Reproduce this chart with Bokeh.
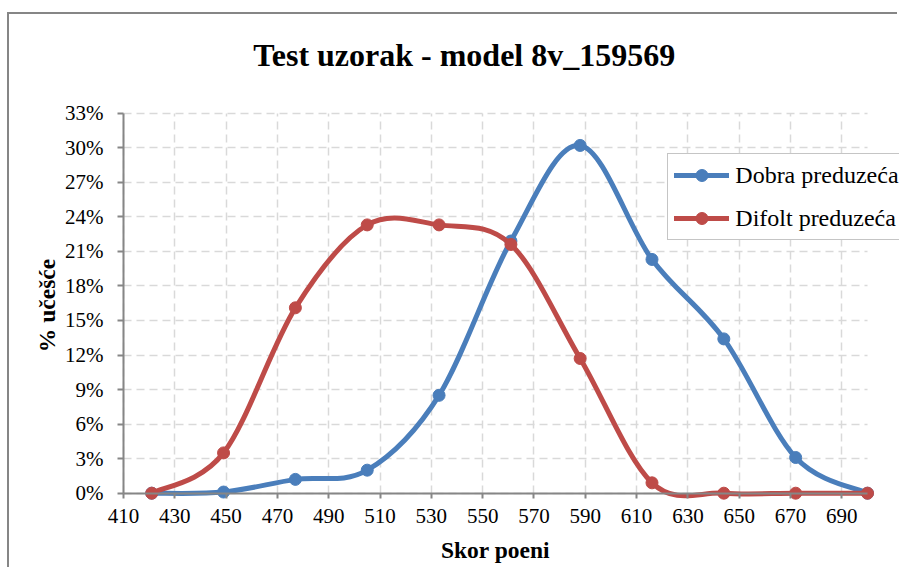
import math
from bokeh.plotting import figure
from bokeh.models import Range1d, FixedTicker, Legend, LegendItem, Label, ColumnDataSource
from bokeh.embed import file_html
from bokeh.resources import INLINE

# ---------------- data ----------------
title_text = "Test uzorak - model 8v_159569"
x_label = "Skor poeni"
y_label = "% učešće"
series_names = ["Dobra preduzeća", "Difolt preduzeća"]

scores = [421, 449, 477, 505, 533, 561, 588, 616, 644, 672, 700]
dobra = [0.0, 0.1, 1.2, 2.0, 8.5, 21.9, 30.2, 20.3, 13.4, 3.1, 0.0]
difolt = [0.0, 3.5, 16.1, 23.3, 23.3, 21.6, 11.7, 0.9, 0.0, 0.0, 0.0]

x_ticks = [410, 430, 450, 470, 490, 510, 530, 550, 570, 590, 610, 630, 650, 670, 690]
y_ticks = [0, 3, 6, 9, 12, 15, 18, 21, 24, 27, 30, 33]
y_tick_labels = ["0%", "3%", "6%", "9%", "12%", "15%", "18%", "21%", "24%", "27%", "30%", "33%"]
x_min, x_max = 410, 700
y_min, y_max = 0, 33

colors = ["#4A7EBB", "#BE4B48"]
FONT = "Liberation Serif"

# ---------------- layout (pixels, canvas coordinates; frame = whole canvas) ----------------
ORIGIN_Y = 14              # canvas top on the page
W, H = 890, 555
X410_PX = 114              # where x_min lands
X700_PX = 858              # where x_max lands
Y0_PX = 492.7 - ORIGIN_Y   # where y=0 lands (from canvas top)
Y33_PX = 112.7 - ORIGIN_Y  # where y=33 lands
BASE_CORR = 0.35           # alphabetic-baseline correction (em)

px_x = (X700_PX - X410_PX) / (x_max - x_min)
px_y = (Y0_PX - Y33_PX) / (y_max - y_min)
x_start = x_min - X410_PX / px_x
x_end = x_min + (W - X410_PX) / px_x
y_end = Y0_PX / px_y
y_start = -(H - Y0_PX) / px_y


def smooth_segments(xs, ys):
    """Cubic Bezier control points (Catmull-Rom style smoothing, as in Excel)."""
    n = len(xs)
    d = dict(x0=[], y0=[], x1=[], y1=[], cx0=[], cy0=[], cx1=[], cy1=[])
    for i in range(n - 1):
        pm = max(i - 1, 0)
        pp = min(i + 2, n - 1)
        d["x0"].append(xs[i]); d["y0"].append(ys[i])
        d["x1"].append(xs[i + 1]); d["y1"].append(ys[i + 1])
        d["cx0"].append(xs[i] + (xs[i + 1] - xs[pm]) / 6.0)
        d["cy0"].append(ys[i] + (ys[i + 1] - ys[pm]) / 6.0)
        d["cx1"].append(xs[i + 1] - (xs[pp] - xs[i]) / 6.0)
        d["cy1"].append(ys[i + 1] - (ys[pp] - ys[i]) / 6.0)
    return d


p = figure(width=W, height=H,
           x_range=Range1d(x_start, x_end), y_range=Range1d(y_start, y_end),
           output_backend="svg", toolbar_location=None,
           min_border_left=0, min_border_right=0,
           min_border_top=0, min_border_bottom=0)
p.styles = {"border-top": "2px solid #868686", "border-left": "2px solid #868686",
            "margin-top": "12px", "margin-left": "7px"}
p.outline_line_color = None
p.background_fill_color = "white"
p.border_fill_color = "white"

# axes (drawn at fixed data locations inside the frame)
for ax in (p.xaxis, p.yaxis):
    ax.axis_line_color = "#868686"
    ax.axis_line_width = 2
    ax.major_tick_line_color = "#868686"
    ax.major_tick_line_width = 2
    ax.major_tick_in = 0
    ax.minor_tick_line_color = None
    ax.major_label_text_font = FONT
    ax.major_label_text_font_size = "21px"
    ax.major_label_text_color = "black"

p.xaxis.ticker = FixedTicker(ticks=x_ticks)
p.yaxis.ticker = FixedTicker(ticks=y_ticks)
p.xaxis.bounds = (x_min, x_max)
p.yaxis.bounds = (y_min, y_max)
p.xaxis.fixed_location = y_min
p.yaxis.fixed_location = x_min
p.yaxis.major_label_overrides = {t: l for t, l in zip(y_ticks, y_tick_labels)}
p.xaxis.major_tick_out = 5
p.yaxis.major_tick_out = 6
p.xaxis.major_label_standoff = 11
p.yaxis.major_label_standoff = 14

for g in (p.xgrid, p.ygrid):
    g.grid_line_color = "#D9D9D9"
    g.grid_line_width = 1.5
    g.grid_line_dash = "8 5"
p.xgrid.cross_bounds = (y_min, y_max)
p.ygrid.cross_bounds = (x_min, x_max)

# series
items = []
for name, vals, col in zip(series_names, [dobra, difolt], colors):
    src = ColumnDataSource(smooth_segments(scores, vals))
    rb = p.bezier(x0="x0", y0="y0", x1="x1", y1="y1", cx0="cx0", cy0="cy0",
                  cx1="cx1", cy1="cy1", source=src, line_color=col,
                  line_width=5, line_cap="round")
    rs = p.scatter(scores, vals, size=12, fill_color=col, line_color=col)
    items.append(LegendItem(label=name, renderers=[rb, rs]))

legend = Legend(items=items, location=(658.3, H - (240.0 - ORIGIN_Y)), margin=0, padding=6,
                spacing=13, glyph_width=55, glyph_height=30, label_height=30,
                label_standoff=6, label_text_font=FONT, label_text_font_size="24px",
                label_text_color="black", border_line_color="#8C8C8C",
                border_line_width=1.5, background_fill_color="white",
                background_fill_alpha=1.0)
p.add_layout(legend)

# chart title
title = Label(x=454.8, y=H - (65.7 - ORIGIN_Y) + BASE_CORR * 32, x_units="screen",
              y_units="screen", text=title_text, text_align="center",
              text_baseline="alphabetic", text_font=FONT, text_font_style="bold",
              text_font_size="32px", text_color="black")
p.add_layout(title)

# axis titles
xlab = Label(x=(x_min + x_max) / 2, y=H - (557.7 - ORIGIN_Y) + BASE_CORR * 23.5,
             y_units="screen", text=x_label, text_align="center",
             text_baseline="alphabetic", text_font=FONT, text_font_style="bold",
             text_font_size="23.5px", text_color="black")
p.add_layout(xlab)

ylab = Label(x=46 - BASE_CORR * 23.5, y=(y_min + y_max) / 2 - 0.2, x_units="screen",
             angle=math.pi / 2, text=y_label, text_align="center",
             text_baseline="alphabetic", text_font=FONT, text_font_style="bold",
             text_font_size="23.5px", text_color="black")
p.add_layout(ylab)

open("out.html", "w").write(file_html(p, INLINE))
